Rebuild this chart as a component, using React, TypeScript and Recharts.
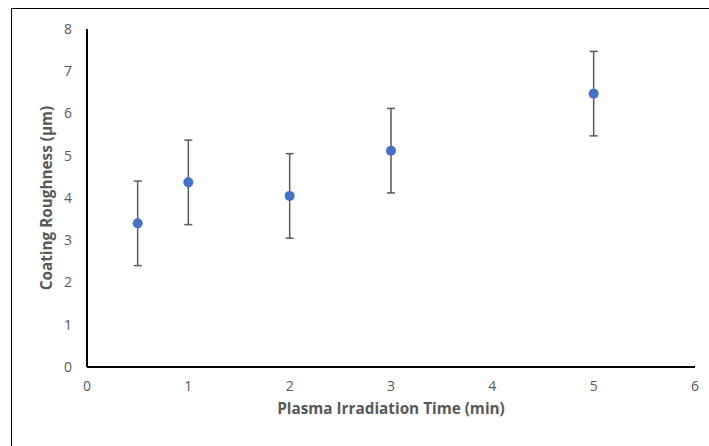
import React from "react";
import { ScatterChart, Scatter, XAxis, YAxis, ErrorBar, Label } from "recharts";

const times = [0.5, 1, 2, 3, 5];
const roughness = [3.4, 4.37, 4.05, 5.12, 6.47];
const errors = [1, 1, 1, 1, 1];
const xTicks = [0, 1, 2, 3, 4, 5, 6];
const yTicks = [0, 1, 2, 3, 4, 5, 6, 7, 8];

const data = times.map((t, i) => ({ x: t, y: roughness[i], err: errors[i] }));

const FONT = "'Open Sans', sans-serif";
const GRAY = "#595959";

export default function App() {
  return (
    <div style={{ position: "absolute", left: 0, top: 0, width: 709, height: 446, background: "#fff", overflow: "hidden" }}>
      <div style={{ position: "absolute", left: 11, top: 8, width: 800, height: 600, border: "1.5px solid #000" }} />
      <div style={{ position: "absolute", left: 0, top: 0 }}>
        <ScatterChart width={709} height={446} margin={{ top: 29, right: 14, bottom: 0, left: 0 }}>
          <XAxis
            type="number"
            dataKey="x"
            domain={[0, 6]}
            ticks={xTicks}
            tickLine={false}
            tickSize={0}
            tickMargin={14}
            height={79}
            axisLine={{ stroke: "#000", strokeWidth: 2 }}
            tick={{ fill: GRAY, fontSize: 14, fontFamily: FONT }}
          >
            <Label
              value="Plasma Irradiation Time (min)"
              position="insideTop"
              offset={36}
              style={{ fill: GRAY, fontSize: 15.3, fontWeight: "bold", fontFamily: FONT }}
            />
          </XAxis>
          <YAxis
            type="number"
            dataKey="y"
            domain={[0, 8]}
            ticks={yTicks}
            tickLine={false}
            tickSize={0}
            tickMargin={15}
            width={87}
            axisLine={{ stroke: "#000", strokeWidth: 2 }}
            tick={{ fill: GRAY, fontSize: 14, fontFamily: FONT }}
          >
            <Label
              value="Coating Roughness (μm)"
              angle={-90}
              position="insideLeft"
              offset={47}
              style={{ textAnchor: "middle", fill: GRAY, fontSize: 15.3, fontWeight: "bold", fontFamily: FONT }}
            />
          </YAxis>
          <Scatter data={data} fill="#4472C4" isAnimationActive={false} shape={(p: any) => <circle cx={p.cx} cy={p.cy} r={5} fill="#4472C4" />}>
            <ErrorBar dataKey="err" direction="y" width={4} stroke={GRAY} strokeWidth={1.5} />
          </Scatter>
        </ScatterChart>
      </div>
    </div>
  );
}
